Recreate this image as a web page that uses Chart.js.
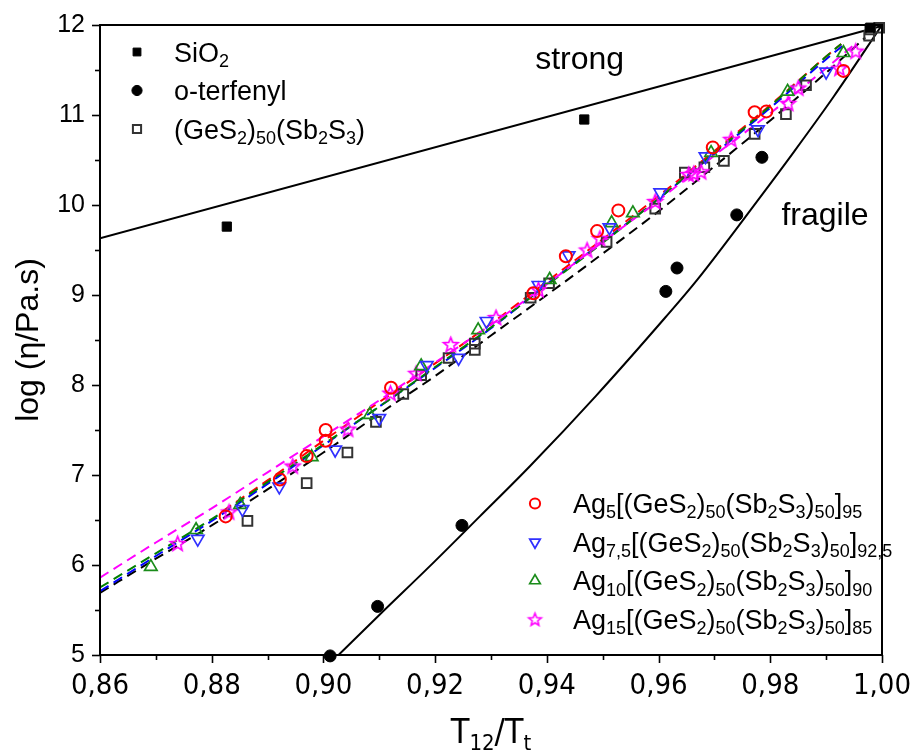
<!DOCTYPE html>
<html>
<head>
<meta charset="utf-8">
<script src="https://cdn.jsdelivr.net/npm/chart.js@4.4.1/dist/chart.umd.min.js"></script>
<style>
  html, body { margin: 0; padding: 0; background: #fff; }
  #c { display: block; }
</style>
</head>
<body>
<canvas id="c" width="913" height="755"></canvas>
<script>
// ---- tick labels ----
const xTickLabels = ['0,86', '0,88', '0,90', '0,92', '0,94', '0,96', '0,98', '1,00'];
const yTickLabels = ['5', '6', '7', '8', '9', '10', '11', '12'];

// ---- reference glasses ----
const sio2X = [0.8827, 0.9467, 0.9979];
const sio2Y = [9.76, 10.95, 11.97];

const oterX = [0.9012, 0.9097, 0.9248, 0.9613, 0.9633, 0.9740, 0.9785];
const oterY = [4.99, 5.54, 6.44, 9.04, 9.30, 9.89, 10.53];

// strong / fragile limiting curves
const strongX = [0.86, 1.00];
const strongY = [9.63, 11.99];
const fragileX = [0.9027, 0.9101, 0.9191, 0.9280, 0.9370, 0.9488, 0.9612, 0.9668, 0.9781, 0.9841, 0.9913, 1.0000];
const fragileY = [5.00, 5.45, 5.99, 6.54, 7.10, 7.88, 8.75, 9.16, 10.08, 10.58, 11.20, 12.00];

// ---- (GeS2)50(Sb2S3) base glass ----
const baseX = [0.8864, 0.8970, 0.9043, 0.9094, 0.9143, 0.9175, 0.9224, 0.9271, 0.9271, 0.9371, 0.9404, 0.9507, 0.9594, 0.9647, 0.9682, 0.9717, 0.9772, 0.9828, 0.9864, 0.9977, 0.9979, 0.9995];
const baseY = [6.49, 6.91, 7.25, 7.59, 7.90, 8.11, 8.30, 8.46, 8.39, 8.97, 9.13, 9.59, 9.96, 10.36, 10.42, 10.49, 10.79, 11.01, 11.33, 11.88, 11.95, 11.97];

// ---- Ag-doped glasses ----
const ag5X = [0.8825, 0.8922, 0.8970, 0.9004, 0.9004, 0.9121, 0.9376, 0.9434, 0.9490, 0.9528, 0.9697, 0.9772, 0.9793, 0.9931];
const ag5Y = [6.54, 6.95, 7.21, 7.38, 7.50, 7.97, 9.02, 9.43, 9.71, 9.94, 10.64, 11.03, 11.04, 11.49];

const ag75X = [0.8775, 0.8855, 0.8921, 0.9021, 0.9100, 0.9185, 0.9242, 0.9292, 0.9385, 0.9439, 0.9512, 0.9603, 0.9684, 0.9778, 0.9900];
const ag75Y = [6.29, 6.62, 6.87, 7.28, 7.63, 8.22, 8.30, 8.71, 9.11, 9.44, 9.75, 10.14, 10.54, 10.84, 11.48];

const ag10X = [0.8691, 0.8772, 0.8851, 0.8979, 0.9083, 0.9175, 0.9277, 0.9405, 0.9516, 0.9554, 0.9694, 0.9831, 0.9931];
const ag10Y = [5.98, 6.39, 6.67, 7.20, 7.67, 8.21, 8.61, 9.17, 9.80, 9.91, 10.58, 11.26, 11.69];

const ag15X = [0.8739, 0.8831, 0.8945, 0.9044, 0.9120, 0.9166, 0.9228, 0.9309, 0.9385, 0.9472, 0.9495, 0.9594, 0.9654, 0.9663, 0.9676, 0.9730, 0.9832, 0.9850, 0.9924, 0.9953];
const ag15Y = [6.24, 6.59, 7.10, 7.51, 7.91, 8.13, 8.45, 8.75, 9.06, 9.50, 9.63, 10.04, 10.34, 10.35, 10.37, 10.73, 11.13, 11.30, 11.52, 11.71];

// ---- fitted viscosity curves ----
const fitBaseX = [0.86, 0.87, 0.88, 0.89, 0.90, 0.91, 0.92, 0.93, 0.94, 0.95, 0.96, 0.97, 0.98, 0.99, 0.997];
const fitBaseY = [5.69, 6.07, 6.44, 6.84, 7.25, 7.68, 8.10, 8.55, 9.00, 9.46, 9.93, 10.43, 10.94, 11.47, 11.86];

const fitAg5X = [0.882, 0.89, 0.90, 0.91, 0.92, 0.93, 0.94, 0.95, 0.96, 0.97, 0.98, 0.99, 0.9927];
const fitAg5Y = [6.60, 6.94, 7.38, 7.81, 8.24, 8.68, 9.15, 9.62, 10.10, 10.60, 11.11, 11.65, 11.79];

const fitAg75X = [0.86, 0.87, 0.88, 0.89, 0.90, 0.91, 0.92, 0.93, 0.94, 0.95, 0.96, 0.97, 0.98, 0.99, 0.9932];
const fitAg75Y = [5.71, 6.10, 6.49, 6.90, 7.33, 7.76, 8.19, 8.63, 9.12, 9.59, 10.07, 10.57, 11.08, 11.62, 11.78];

const fitAg10X = [0.86, 0.87, 0.88, 0.89, 0.90, 0.91, 0.92, 0.93, 0.94, 0.95, 0.96, 0.97, 0.98, 0.99, 0.9927];
const fitAg10Y = [5.75, 6.13, 6.51, 6.92, 7.34, 7.76, 8.20, 8.64, 9.11, 9.58, 10.07, 10.58, 11.10, 11.65, 11.79];

const fitAg15X = [0.86, 0.87, 0.88, 0.89, 0.90, 0.91, 0.92, 0.93, 0.94, 0.95, 0.96, 0.97, 0.98, 0.99, 0.9952];
const fitAg15Y = [5.86, 6.25, 6.63, 7.03, 7.43, 7.83, 8.25, 8.67, 9.12, 9.59, 10.05, 10.55, 11.02, 11.52, 11.79];

// ---- legend labels (_{..} marks a subscript) ----
const refLabels = ['SiO_{2}', 'o-terfenyl', '(GeS_{2})_{50}(Sb_{2}S_{3})'];
const agLabels = [
  'Ag_{5}[(GeS_{2})_{50}(Sb_{2}S_{3})_{50}]_{95}',
  'Ag_{7,5}[(GeS_{2})_{50}(Sb_{2}S_{3})_{50}]_{92,5}',
  'Ag_{10}[(GeS_{2})_{50}(Sb_{2}S_{3})_{50}]_{90}',
  'Ag_{15}[(GeS_{2})_{50}(Sb_{2}S_{3})_{50}]_{85}'
];

const SANS = "'Liberation Sans', Arial, sans-serif";
const NARROW = "'Liberation Sans Narrow', 'Arial Narrow', 'DejaVu Sans Condensed', sans-serif";

const RED = '#ff0000', BLUE = '#3030ff', GREEN = '#1a8c1a', MAGENTA = '#ff00ff', GREY = '#333333';

const pts = (xs, ys) => xs.map((x, i) => ({ x, y: ys[i] }));

// open five-pointed star marker
function makeStar(color, outer, inner, lw) {
  const size = Math.ceil(2 * outer + 2 * lw + 2);
  const cv = document.createElement('canvas');
  cv.width = size; cv.height = size;
  const c = cv.getContext('2d');
  c.translate(size / 2, size / 2 + 0.6);
  c.beginPath();
  for (let k = 0; k < 10; k++) {
    const r = k % 2 === 0 ? outer : inner;
    const a = -Math.PI / 2 + k * Math.PI / 5;
    const px = r * Math.cos(a), py = r * Math.sin(a);
    if (k === 0) c.moveTo(px, py); else c.lineTo(px, py);
  }
  c.closePath();
  c.strokeStyle = color; c.lineWidth = lw; c.lineJoin = 'miter';
  c.stroke();
  return cv;
}
const starImg = makeStar(MAGENTA, 7.6, 3.3, 1.7);
const starSmall = makeStar(MAGENTA, 6.6, 2.9, 1.6);

const markerStyles = {
  sio2: { pointStyle: 'rect', radius: 6.5, rotation: 0, fill: '#000', stroke: '#000', bw: 1 },
  oter: { pointStyle: 'circle', radius: 6, rotation: 0, fill: '#000', stroke: '#000', bw: 1 },
  base: { pointStyle: 'rect', radius: 6.8, rotation: 0, fill: 'rgba(0,0,0,0)', stroke: GREY, bw: 2 },
  ag5:  { pointStyle: 'circle', radius: 6, rotation: 0, fill: 'rgba(0,0,0,0)', stroke: RED, bw: 2 },
  ag75: { pointStyle: 'triangle', radius: 7.2, rotation: 180, fill: 'rgba(0,0,0,0)', stroke: BLUE, bw: 1.7 },
  ag10: { pointStyle: 'triangle', radius: 7.2, rotation: 0, fill: 'rgba(0,0,0,0)', stroke: GREEN, bw: 1.7 },
  ag15: { pointStyle: starImg, radius: 8, rotation: 0, fill: 'rgba(0,0,0,0)', stroke: MAGENTA, bw: 1.7 }
};

function markerSet(data, key) {
  const m = markerStyles[key];
  return {
    data, showLine: false, order: 0, clip: false,
    pointStyle: m.pointStyle, pointRadius: m.radius, pointRotation: m.rotation,
    pointBackgroundColor: m.fill, pointBorderColor: m.stroke, pointBorderWidth: m.bw,
    pointHoverRadius: m.radius
  };
}
function curveSet(data, color, dash) {
  return {
    data, showLine: true, order: 1, borderColor: color, borderWidth: 2,
    borderDash: dash || [], pointRadius: 0, pointHoverRadius: 0, fill: false,
    cubicInterpolationMode: 'monotone'
  };
}

// rich text with subscripts
function parseRich(s) {
  const parts = []; const re = /_\{([^}]*)\}/g; let last = 0, m;
  while ((m = re.exec(s))) {
    if (m.index > last) parts.push({ t: s.slice(last, m.index), sub: false });
    parts.push({ t: m[1], sub: true });
    last = re.lastIndex;
  }
  if (last < s.length) parts.push({ t: s.slice(last), sub: false });
  return parts;
}
function drawRich(ctx, s, x, y, size, family, align, subScale) {
  const parts = parseRich(s);
  const subSize = Math.round(size * (subScale || 0.66));
  let w = 0;
  parts.forEach(p => {
    ctx.font = `${p.sub ? subSize : size}px ${family}`;
    p.w = ctx.measureText(p.t).width; w += p.w;
  });
  let cx = align === 'center' ? x - w / 2 : x;
  ctx.textAlign = 'left'; ctx.textBaseline = 'alphabetic'; ctx.fillStyle = '#000';
  parts.forEach(p => {
    ctx.font = `${p.sub ? subSize : size}px ${family}`;
    ctx.fillText(p.t, cx, p.sub ? y + size * 0.2 : y);
    cx += p.w;
  });
}
function drawMarker(ctx, key, x, y, scale) {
  const m = markerStyles[key];
  const style = key === 'ag15' ? starSmall : m.pointStyle;
  ctx.save();
  ctx.fillStyle = m.fill; ctx.strokeStyle = m.stroke; ctx.lineWidth = m.bw;
  Chart.helpers.drawPoint(ctx, { pointStyle: style, rotation: m.rotation, radius: m.radius * (scale || 1), borderWidth: m.bw }, x, y);
  ctx.restore();
}

const decor = {
  id: 'decor',
  afterDraw(chart) {
    const { ctx, chartArea: a, scales: { x: xs, y: ys } } = chart;
    ctx.save();
    // plot frame
    ctx.strokeStyle = '#000'; ctx.lineWidth = 2;
    ctx.strokeRect(a.left, a.top, a.right - a.left, a.bottom - a.top);
    // outward tick marks: labelled ticks long, the others short
    ctx.lineWidth = 1.6;
    xs.ticks.forEach(t => {
      const px = Math.round(xs.getPixelForValue(t.value)) + 0.5;
      const len = t.label !== '' ? 8 : 5;
      ctx.beginPath(); ctx.moveTo(px, a.bottom); ctx.lineTo(px, a.bottom + len); ctx.stroke();
    });
    ys.ticks.forEach(t => {
      const py = Math.round(ys.getPixelForValue(t.value)) + 0.5;
      const len = t.label !== '' ? 8 : 5;
      ctx.beginPath(); ctx.moveTo(a.left, py); ctx.lineTo(a.left - len, py); ctx.stroke();
    });
    // x axis title
    drawRich(ctx, 'T_{12}/T_{t}', (a.left + a.right) / 2, 743, 34, NARROW, 'center', 0.66);
    // region labels
    ctx.fillStyle = '#000'; ctx.font = `32px ${SANS}`;
    ctx.textAlign = 'left'; ctx.textBaseline = 'alphabetic';
    ctx.fillText('strong', xs.getPixelForValue(0.9379), ys.getPixelForValue(11.51));
    ctx.fillText('fragile', xs.getPixelForValue(0.9820), ys.getPixelForValue(9.78));
    // reference legend (upper left)
    const refKeys = ['sio2', 'oter', 'base'];
    refKeys.forEach((k, i) => {
      const my = a.top + 27 + i * 38.5;
      drawMarker(ctx, k, a.left + 37, my, 0.85);
      drawRich(ctx, refLabels[i], a.left + 74, my + 9.5, 27, SANS, 'left', 0.68);
    });
    // Ag glasses legend (lower right)
    const agKeys = ['ag5', 'ag75', 'ag10', 'ag15'];
    agKeys.forEach((k, i) => {
      const my = a.bottom - 151.5 + i * 38.6;
      drawMarker(ctx, k, a.left + 435, my, 0.85);
      drawRich(ctx, agLabels[i], a.left + 473, my + 9.5, 27, SANS, 'left', 0.66);
    });
    ctx.restore();
  }
};

new Chart(document.getElementById('c'), {
  type: 'scatter',
  data: {
    datasets: [
      markerSet(pts(sio2X, sio2Y), 'sio2'),
      markerSet(pts(oterX, oterY), 'oter'),
      markerSet(pts(ag5X, ag5Y), 'ag5'),
      markerSet(pts(ag75X, ag75Y), 'ag75'),
      markerSet(pts(ag10X, ag10Y), 'ag10'),
      markerSet(pts(ag15X, ag15Y), 'ag15'),
      markerSet(pts(baseX, baseY), 'base'),
      curveSet(pts(strongX, strongY), '#000'),
      curveSet(pts(fragileX, fragileY), '#000'),
      curveSet(pts(fitAg15X, fitAg15Y), MAGENTA, [10, 6]),
      curveSet(pts(fitAg10X, fitAg10Y), '#008000', [10, 6]),
      curveSet(pts(fitAg5X, fitAg5Y), '#ff0000', [10, 6]),
      curveSet(pts(fitAg75X, fitAg75Y), '#0000ff', [10, 6]),
      curveSet(pts(fitBaseX, fitBaseY), '#000', [10, 6])
    ]
  },
  options: {
    responsive: false,
    animation: false,
    devicePixelRatio: 1,
    layout: { padding: { top: 25, right: 31, left: 0, bottom: 0 } },
    plugins: { legend: { display: false }, tooltip: { enabled: false } },
    scales: {
      x: {
        type: 'linear', min: 0.86, max: 1.00,
        grid: { display: false }, border: { display: false },
        ticks: {
          stepSize: 0.01, maxRotation: 0, autoSkip: false, padding: 6, color: '#000',
          font: { family: NARROW, size: 29 },
          callback: (v) => {
            const k = Math.round((v - 0.86) * 100);
            return k % 2 === 0 ? xTickLabels[k / 2] : '';
          }
        },
        afterFit: (s) => { s.height = 100; s.paddingLeft = 0; s.paddingRight = 0; }
      },
      y: {
        type: 'linear', min: 5, max: 12,
        grid: { display: false }, border: { display: false },
        ticks: {
          stepSize: 0.5, autoSkip: false, padding: 7, color: '#000',
          font: { family: SANS, size: 25 },
          callback: (v) => Number.isInteger(v) ? yTickLabels[v - 5] : ''
        },
        title: {
          display: true, text: 'log (η/Pa.s)', color: '#000',
          font: { family: SANS, size: 32 }, padding: { top: 10, bottom: 0 }
        },
        afterFit: (s) => { s.width = 100; s.paddingTop = 0; s.paddingBottom = 0; }
      }
    }
  },
  plugins: [decor]
});
</script>
</body>
</html>
